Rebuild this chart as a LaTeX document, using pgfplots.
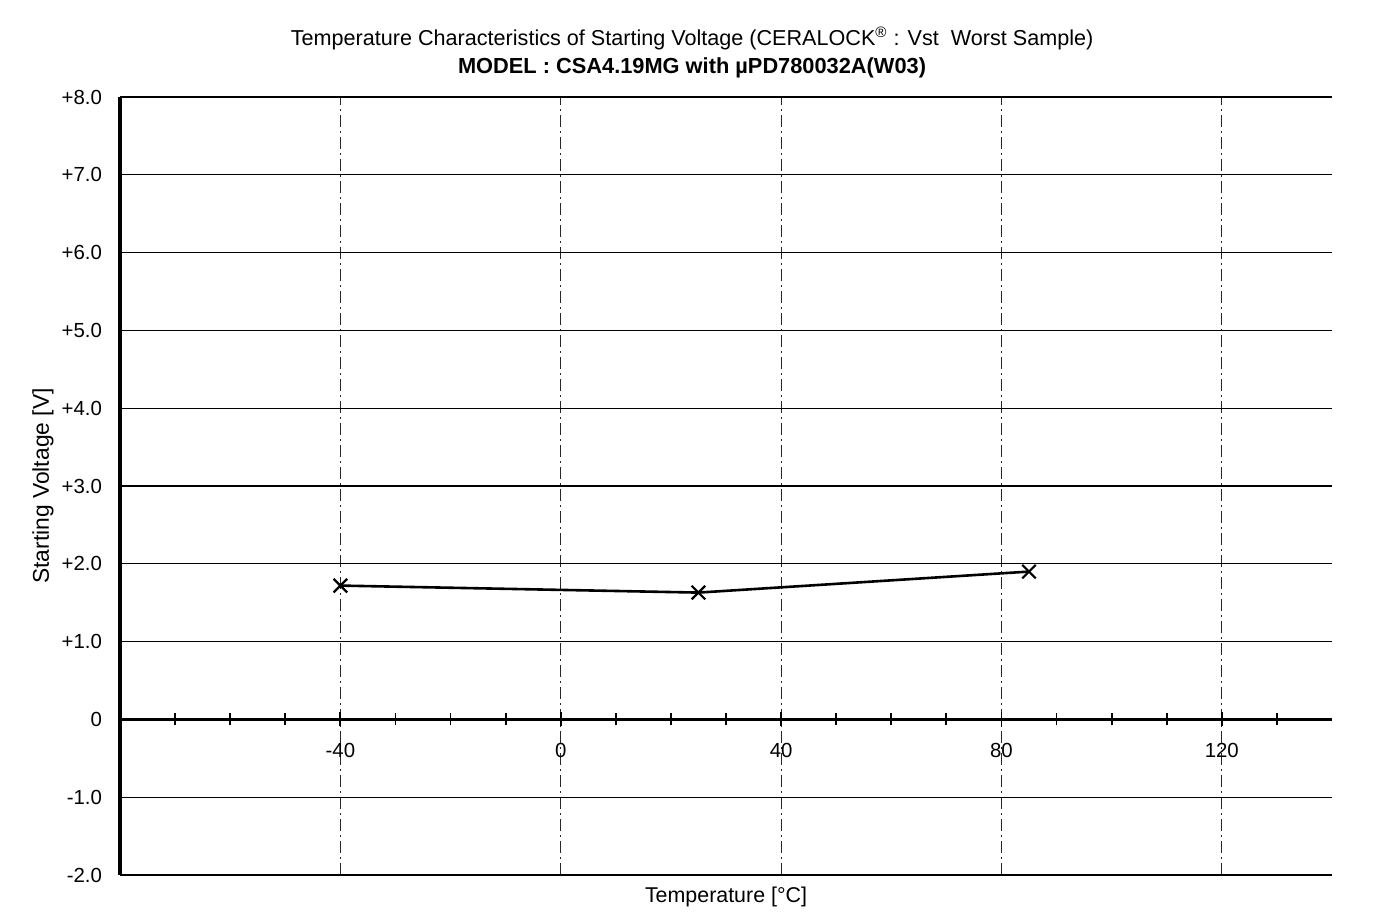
\documentclass[border=0pt]{standalone}
\usepackage{fontspec}
\setmainfont{Liberation Sans}
\usepackage{pgfplots}
\pgfplotsset{compat=1.18}
\usetikzlibrary{calc}

\begin{document}
\begin{tikzpicture}
\begin{axis}[
    width=606pt, height=389pt, scale only axis,
    xmin=-80, xmax=140, ymin=-2, ymax=8,
    axis x line=middle, axis y line=left,
    x axis line style={-, line width=1.3pt},
    y axis line style={-, line width=1.6pt},
    xtick={-40,0,40,80,120},
    xticklabels={-40,0,40,80,120},
    minor xtick={-70,-60,...,130},
    ytick={-2,-1,...,8},
    yticklabels={-2.0,-1.0,0,+1.0,+2.0,+3.0,+4.0,+5.0,+6.0,+7.0,+8.0},
    tick align=center,
    major tick length=7pt, minor tick length=6pt,
    xtick style={black, line width=0.9pt},
    ytick style={draw=none},
    xticklabel style={font=\fontsize{10.2}{12}\selectfont, yshift=-5pt},
    yticklabel style={font=\fontsize{10.2}{12}\selectfont, xshift=-2pt},
    xmajorgrids, ymajorgrids,
    x grid style={black!85, line width=0.5pt, dash pattern=on 6pt off 2pt on 1pt off 2pt},
    y grid style={black, line width=0.6pt},
    clip=false,
]
\addplot[black, line width=1.3pt, mark=x, mark size=4.8pt, mark options={line width=1.1pt}]
    coordinates {(-40,1.72) (25,1.63) (85,1.90)};

\coordinate (bl) at (rel axis cs:0,0);
\coordinate (tr) at (rel axis cs:1,1);
\node[anchor=base, font=\fontsize{10.8}{13}\selectfont] at (rel axis cs:0.472,1.0668)
    {Temperature Characteristics of Starting Voltage (CERALOCK\textsuperscript{®} : Vst\ \ Worst Sample)};
\node[anchor=base, font=\fontsize{10.9}{13}\selectfont\bfseries] at (rel axis cs:0.472,1.0308)
    {MODEL : CSA4.19MG with µPD780032A(W03)};
\node[anchor=base, font=\fontsize{10.7}{13}\selectfont] at (rel axis cs:0.5,-0.0347)
    {Temperature [°C]};
\node[rotate=90, font=\fontsize{11.4}{13}\selectfont] at (rel axis cs:-0.0635,0.5)
    {Starting Voltage [V]};
\end{axis}
\pgfresetboundingbox
\path ($(bl)+(-60pt,-22.5pt)$) rectangle ($(tr)+(27pt,48.5pt)$);
\end{tikzpicture}
\end{document}
